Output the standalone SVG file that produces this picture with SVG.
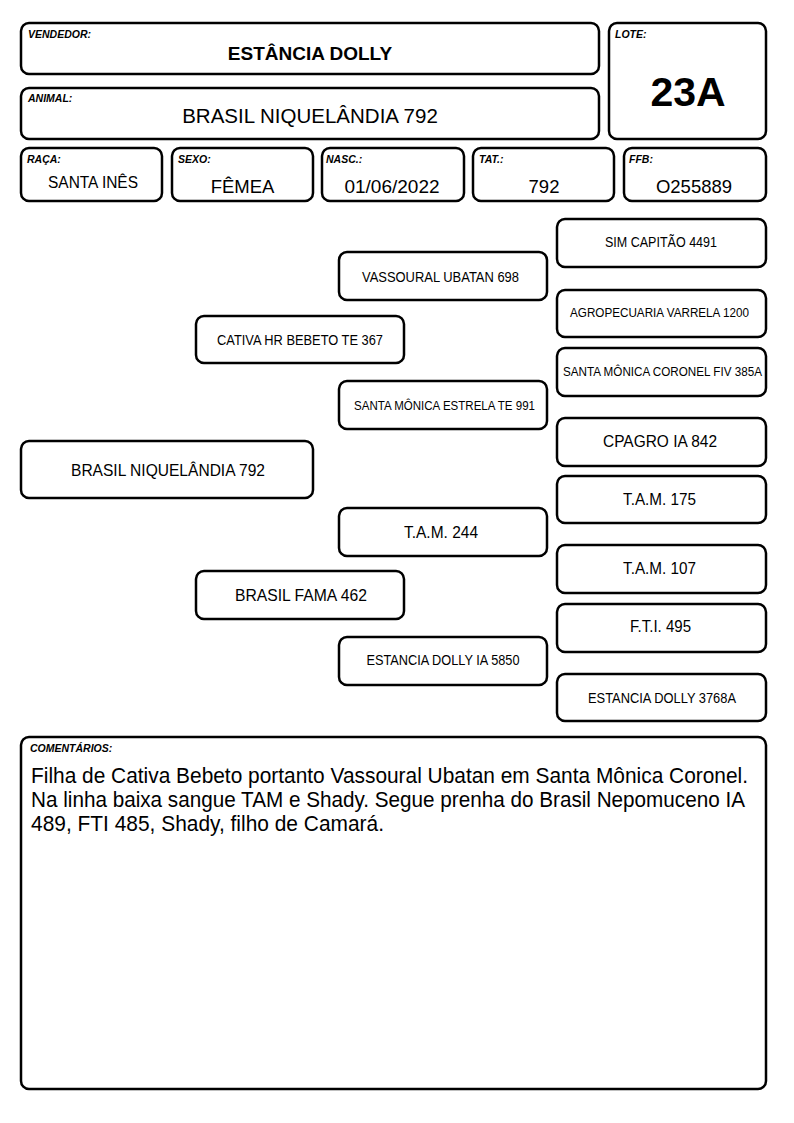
<svg xmlns="http://www.w3.org/2000/svg" width="794" height="1123" viewBox="0 0 794 1123">
<style>
.box{fill:#fff;stroke:#000;stroke-width:2.5}
.lbl{font-family:"Liberation Sans",Arial,sans-serif;font-size:10.5px;font-weight:bold;font-style:italic;fill:#000}
.t{font-family:"Liberation Sans",Arial,sans-serif;fill:#000;text-anchor:middle}
.c{font-family:"Liberation Sans",Arial,sans-serif;font-size:22px;fill:#000}
</style>
<rect width="794" height="1123" fill="#fff"/>
<g id="vendedor"><rect class="box" x="21" y="23" width="578" height="51" rx="8"/><text class="lbl" x="28" y="38">VENDEDOR:</text><text class="t" x="310" y="60" font-size="19" font-weight="bold">ESTÂNCIA DOLLY</text></g>
<g id="animal"><rect class="box" x="21" y="88" width="578" height="51" rx="8"/><text class="lbl" x="28" y="102">ANIMAL:</text><text class="t" x="310" y="123" font-size="20.5">BRASIL NIQUELÂNDIA 792</text></g>
<g id="lote"><rect class="box" x="609" y="23" width="157" height="116" rx="8"/><text class="lbl" x="615" y="38">LOTE:</text><text class="t" x="688" y="106" font-size="41" font-weight="bold">23A</text></g>
<g id="raca"><rect class="box" x="21" y="148" width="141" height="53" rx="8"/><text class="lbl" x="27" y="163">RAÇA:</text><text class="t" x="93" y="188" font-size="16" textLength="90" lengthAdjust="spacingAndGlyphs">SANTA INÊS</text></g>
<g id="sexo"><rect class="box" x="172" y="148" width="141" height="53" rx="8"/><text class="lbl" x="178" y="163">SEXO:</text><text class="t" x="242.5" y="193" font-size="18.5">FÊMEA</text></g>
<g id="nasc"><rect class="box" x="322" y="148" width="142" height="53" rx="8"/><text class="lbl" x="326" y="163">NASC.:</text><text class="t" x="392" y="193" font-size="19">01/06/2022</text></g>
<g id="tat"><rect class="box" x="473" y="148" width="141" height="53" rx="8"/><text class="lbl" x="479" y="163">TAT.:</text><text class="t" x="544" y="193" font-size="18.5">792</text></g>
<g id="ffb"><rect class="box" x="624" y="148" width="142" height="53" rx="8"/><text class="lbl" x="629" y="163">FFB:</text><text class="t" x="694" y="193" font-size="18.5">O255889</text></g>
<g id="connectors"></g>
<g id="p0"><rect class="box" x="21" y="441" width="292" height="57" rx="8"/><text class="t" x="168" y="476" font-size="16.5" textLength="194" lengthAdjust="spacingAndGlyphs">BRASIL NIQUELÂNDIA 792</text></g>
<g id="p1"><rect class="box" x="196" y="316" width="208" height="47" rx="8"/><text class="t" x="300" y="345" font-size="14" textLength="166" lengthAdjust="spacingAndGlyphs">CATIVA HR BEBETO TE 367</text></g>
<g id="p2"><rect class="box" x="196" y="571" width="208" height="48" rx="8"/><text class="t" x="301" y="601" font-size="16.5" textLength="132" lengthAdjust="spacingAndGlyphs">BRASIL FAMA 462</text></g>
<g id="p3"><rect class="box" x="339" y="252" width="208" height="48" rx="8"/><text class="t" x="440.5" y="282" font-size="14" textLength="157" lengthAdjust="spacingAndGlyphs">VASSOURAL UBATAN 698</text></g>
<g id="p4"><rect class="box" x="339" y="381" width="208" height="48" rx="8"/><text class="t" x="444.5" y="410" font-size="12.5" textLength="181" lengthAdjust="spacingAndGlyphs">SANTA MÔNICA ESTRELA TE 991</text></g>
<g id="p5"><rect class="box" x="339" y="508" width="208" height="48" rx="8"/><text class="t" x="441" y="538" font-size="16.5" textLength="74" lengthAdjust="spacingAndGlyphs">T.A.M. 244</text></g>
<g id="p6"><rect class="box" x="339" y="637" width="208" height="48" rx="8"/><text class="t" x="443" y="665" font-size="14" textLength="153" lengthAdjust="spacingAndGlyphs">ESTANCIA DOLLY IA 5850</text></g>
<g id="p7"><rect class="box" x="557" y="219" width="209" height="48" rx="8"/><text class="t" x="661" y="247" font-size="14" textLength="112" lengthAdjust="spacingAndGlyphs">SIM CAPITÃO 4491</text></g>
<g id="p8"><rect class="box" x="557" y="290" width="209" height="47" rx="8"/><text class="t" x="659.5" y="317" font-size="12.5" textLength="179" lengthAdjust="spacingAndGlyphs">AGROPECUARIA VARRELA 1200</text></g>
<g id="p9"><rect class="box" x="557" y="348" width="209" height="48" rx="8"/><text class="t" x="662.5" y="376" font-size="12.5" textLength="199" lengthAdjust="spacingAndGlyphs">SANTA MÔNICA CORONEL FIV 385A</text></g>
<g id="p10"><rect class="box" x="557" y="418" width="209" height="48" rx="8"/><text class="t" x="660" y="447" font-size="16" textLength="114" lengthAdjust="spacingAndGlyphs">CPAGRO IA 842</text></g>
<g id="p11"><rect class="box" x="557" y="476" width="209" height="47" rx="8"/><text class="t" x="659.5" y="505" font-size="16" textLength="73" lengthAdjust="spacingAndGlyphs">T.A.M. 175</text></g>
<g id="p12"><rect class="box" x="557" y="545" width="209" height="48" rx="8"/><text class="t" x="659.5" y="574" font-size="16" textLength="73" lengthAdjust="spacingAndGlyphs">T.A.M. 107</text></g>
<g id="p13"><rect class="box" x="557" y="604" width="209" height="48" rx="8"/><text class="t" x="660.5" y="632" font-size="16" textLength="61" lengthAdjust="spacingAndGlyphs">F.T.I. 495</text></g>
<g id="p14"><rect class="box" x="557" y="674" width="209" height="47" rx="8"/><text class="t" x="662" y="703" font-size="14" textLength="148" lengthAdjust="spacingAndGlyphs">ESTANCIA DOLLY 3768A</text></g>
<g id="comentarios"><rect class="box" x="21" y="737" width="745" height="352" rx="8"/><text class="lbl" x="30" y="752">COMENTÁRIOS:</text>
<text class="c" x="31" y="783" textLength="717" lengthAdjust="spacingAndGlyphs">Filha de Cativa Bebeto portanto Vassoural Ubatan em Santa Mônica Coronel.</text>
<text class="c" x="31" y="807" textLength="714" lengthAdjust="spacingAndGlyphs">Na linha baixa sangue TAM e Shady. Segue prenha do Brasil Nepomuceno IA</text>
<text class="c" x="31" y="831" textLength="353" lengthAdjust="spacingAndGlyphs">489, FTI 485, Shady, filho de Camará.</text></g>
</svg>
